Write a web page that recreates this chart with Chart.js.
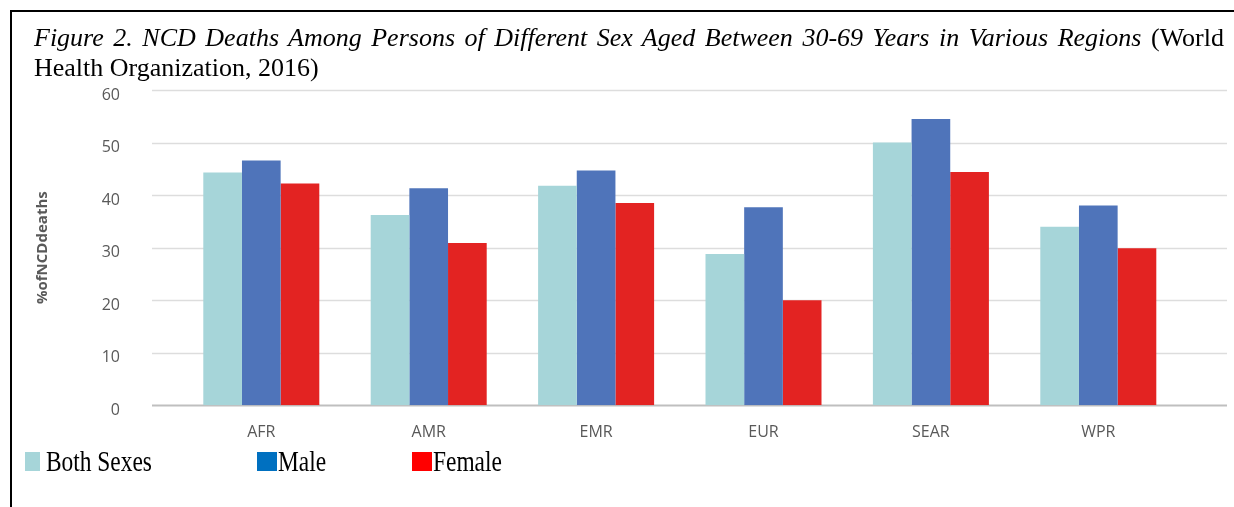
<!DOCTYPE html>
<html>
<head>
<meta charset="utf-8">
<script src="https://cdn.jsdelivr.net/npm/chart.js@4/dist/chart.umd.min.js"></script>
<style>
  html, body { margin: 0; padding: 0; background: #fff; }
  body { width: 1234px; height: 507px; position: relative; overflow: hidden; }
  #frameTop { position: absolute; left: 10px; top: 10px; width: 1224px; height: 2px; background: #000; }
  #frameLeft { position: absolute; left: 10px; top: 10px; width: 2px; height: 497px; background: #000; }
  #caption { position: absolute; left: 34px; top: 23px; width: 1190px;
             font-family: "Liberation Serif", "Times New Roman", serif; font-size: 26px;
             line-height: 30px; color: #000; }
  #caption .l1 { text-align: justify; text-align-last: justify; white-space: nowrap; }
  #caption i { font-style: italic; }
  #chart { position: absolute; left: 0; top: 0; }
</style>
</head>
<body>
<canvas id="chart" width="1234" height="507"></canvas>
<div id="frameTop"></div>
<div id="frameLeft"></div>
<div id="caption">
  <div class="l1"><i>Figure 2. NCD Deaths Among Persons of Different Sex Aged Between 30-69 Years in Various Regions</i> (World</div>
  <div>Health Organization, 2016)</div>
</div>
<script>
// WHO regions and share of NCD deaths (%) among people aged 30-69
const regions = ["AFR", "AMR", "EMR", "EUR", "SEAR", "WPR"];
const bothSexes = [44.3, 36.2, 41.8, 28.8, 50.0, 34.0];
const male = [46.6, 41.3, 44.7, 37.7, 54.5, 38.0];
const female = [42.2, 30.9, 38.5, 20.0, 44.4, 29.9];
const seriesNames = ["Both Sexes", "Male", "Female"];
const yTickValues = [0, 10, 20, 30, 40, 50, 60];

const barColors = ["#A6D5D9", "#4F74BA", "#E32322"];
const keyColors = ["#A6D5D9", "#0070C0", "#FF0000"];

// Horizontal gridlines and baseline, drawn a little wider than the category band
const wideGrid = {
  id: "wideGrid",
  beforeDatasetsDraw(chart) {
    const y = chart.scales.y;
    const ctx = chart.ctx;
    const x0 = 152, x1 = 1227;
    ctx.save();
    yTickValues.forEach(v => {
      const py = Math.round(y.getPixelForValue(v)) + 0.5;
      ctx.beginPath();
      ctx.strokeStyle = v === 0 ? "#BFBFBF" : "#DDDDDD";
      ctx.lineWidth = v === 0 ? 2 : 1.3;
      ctx.moveTo(x0, py);
      ctx.lineTo(x1, py);
      ctx.stroke();
    });
    ctx.restore();
  }
};

// Series key below the axis, in the document's serif face
const serifKey = {
  id: "serifKey",
  afterDraw(chart) {
    const ctx = chart.ctx;
    const items = [
      { sx: 25, sw: 15, tx: 46 },
      { sx: 257, sw: 20, tx: 278 },
      { sx: 412, sw: 20, tx: 433 }
    ];
    ctx.save();
    items.forEach((it, i) => {
      ctx.fillStyle = keyColors[i];
      ctx.fillRect(it.sx, 452, it.sw, 19);
      ctx.save();
      ctx.translate(it.tx, 471);
      ctx.scale(0.78, 1);
      ctx.fillStyle = "#000";
      ctx.font = '30px "Liberation Serif", "Times New Roman", serif';
      ctx.textBaseline = "alphabetic";
      ctx.textAlign = "left";
      ctx.fillText(chart.data.datasets[i].label, 0, 0);
      ctx.restore();
    });
    ctx.restore();
  }
};

new Chart(document.getElementById("chart"), {
  type: "bar",
  data: {
    labels: regions,
    datasets: [
      { label: seriesNames[0], data: bothSexes, backgroundColor: barColors[0] },
      { label: seriesNames[1], data: male, backgroundColor: barColors[1] },
      { label: seriesNames[2], data: female, backgroundColor: barColors[2] }
    ]
  },
  options: {
    responsive: false,
    animation: false,
    events: [],
    layout: { padding: { left: 0, right: 52, top: 90, bottom: 0 } },
    datasets: { bar: { categoryPercentage: 0.693, barPercentage: 1.0, borderWidth: 0 } },
    plugins: { legend: { display: false }, tooltip: { enabled: false }, title: { display: false } },
    scales: {
      x: {
        grid: { display: false, drawTicks: false },
        border: { display: false },
        ticks: { color: "#595959", padding: 18, font: { family: "Open Sans", size: 16 } },
        afterFit(scale) { scale.height = 101.7; }
      },
      y: {
        min: 0, max: 60,
        afterBuildTicks(scale) { scale.ticks = yTickValues.map(v => ({ value: v })); },
        grid: { display: false, drawTicks: false },
        border: { display: false },
        ticks: { color: "#595959", padding: 57.6, labelOffset: 5, font: { family: "Open Sans", size: 16 } },
        title: {
          display: true, text: "%ofNCDdeaths", color: "#595959",
          font: { family: "Open Sans", size: 15, weight: "bold" },
          padding: { top: 34, bottom: 0 }
        },
        afterFit(scale) { scale.width = 177.6; }
      }
    }
  },
  plugins: [wideGrid, serifKey]
});
</script>
</body>
</html>
